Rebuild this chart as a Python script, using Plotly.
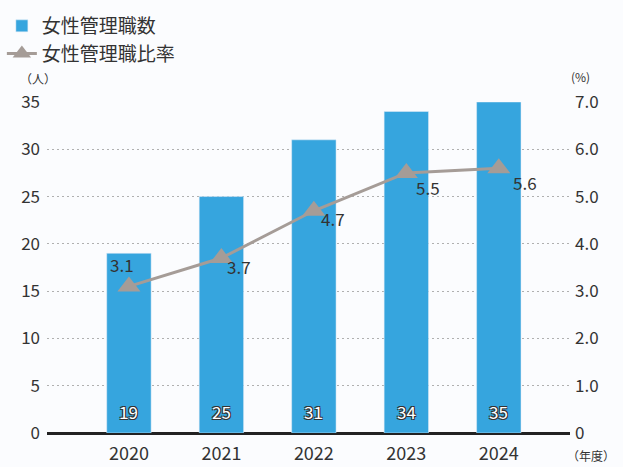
import plotly.graph_objects as go

years = [2020, 2021, 2022, 2023, 2024]
managers = [19, 25, 31, 34, 35]
ratio = [3.1, 3.7, 4.7, 5.5, 5.6]
left_ticks = [0, 5, 10, 15, 20, 25, 30, 35]
right_ticks = [0, 1, 2, 3, 4, 5, 6, 7]
right_tick_text = ["0", "1.0", "2.0", "3.0", "4.0", "5.0", "6.0", "7.0"]

FONT = "Noto Sans CJK JP, Noto Sans, sans-serif"
BLUE = "#36a5de"
GRAY = "#a59c97"
TXT = "#333333"

fig = go.Figure()
fig.add_trace(go.Bar(
    x=years, y=managers, name="女性管理職数", marker_color=BLUE, width=0.48,
    hoverinfo="skip",
))
fig.add_trace(go.Scatter(
    x=years, y=ratio, name="女性管理職比率", yaxis="y2", mode="lines+markers",
    line=dict(color=GRAY, width=3),
    marker=dict(symbol="triangle-up", size=20, color=GRAY),
))

# bar value labels
for x, v in zip(years, managers):
    fig.add_annotation(x=x, y=0, yref="y", text=str(v), showarrow=False,
                       yanchor="bottom", yshift=7,
                       font=dict(family=FONT, size=17, color="white",
                                 shadow="1px 1px 0 #333, -1px -1px 0 #333, 1px -1px 0 #333, -1px 1px 0 #333"))

# ratio labels
offsets = [(-7, 22), (18, -8), (19, -8), (22, -15), (26, -14)]
for (x, v), (dx, dy) in zip(zip(years, ratio), offsets):
    fig.add_annotation(x=x, y=v, yref="y2", text=f"{v}", showarrow=False,
                       xshift=dx, yshift=dy,
                       font=dict(family=FONT, size=17, color=TXT))

fig.add_annotation(xref="paper", yref="paper", x=-0.055, y=1.04, text="（人）",
                   showarrow=False, xanchor="left", yanchor="bottom",
                   font=dict(family=FONT, size=12, color=TXT))
fig.add_annotation(xref="paper", yref="paper", x=0.998, y=1.045, text="(%)",
                   showarrow=False, xanchor="left", yanchor="bottom",
                   font=dict(family=FONT, size=12, color=TXT))
fig.add_annotation(xref="paper", yref="paper", x=0.99, y=-0.035, text="（年度）",
                   showarrow=False, xanchor="left", yanchor="top",
                   font=dict(family=FONT, size=12, color=TXT))

fig.update_layout(
    width=623, height=467,
    margin=dict(l=47, r=53, t=102, b=34, autoexpand=False),
    paper_bgcolor="#fbfcfe", plot_bgcolor="#fbfcfe",
    font=dict(family=FONT, color=TXT, size=17),
    showlegend=True,
    legend=dict(x=0.003, y=0.985, xref="container", yref="container", xanchor="left", yanchor="top",
                font=dict(family=FONT, size=19, color=TXT), bgcolor="rgba(0,0,0,0)",
                tracegroupgap=0, itemwidth=30),
    xaxis=dict(range=[2019.114, 2024.77], tickvals=years, ticktext=[str(y) for y in years],
               showgrid=False, zeroline=False, showline=False, ticks="",
               ticklabelstandoff=8, tickfont=dict(size=18, color=TXT)),
    yaxis=dict(range=[0, 35], tickvals=left_ticks, showgrid=True, gridcolor="#b0b0b0",
               griddash="2px,3px", gridwidth=1.2, zeroline=True, zerolinecolor="#222",
               zerolinewidth=3, ticks="", ticklabelstandoff=6,
               tickfont=dict(size=17, color=TXT)),
    yaxis2=dict(range=[0, 7], overlaying="y", side="right", tickvals=right_ticks,
                ticktext=right_tick_text, showgrid=False, zeroline=False, ticks="",
                ticklabelstandoff=4, tickfont=dict(size=17, color=TXT)),
)

fig.write_html("out.html")
